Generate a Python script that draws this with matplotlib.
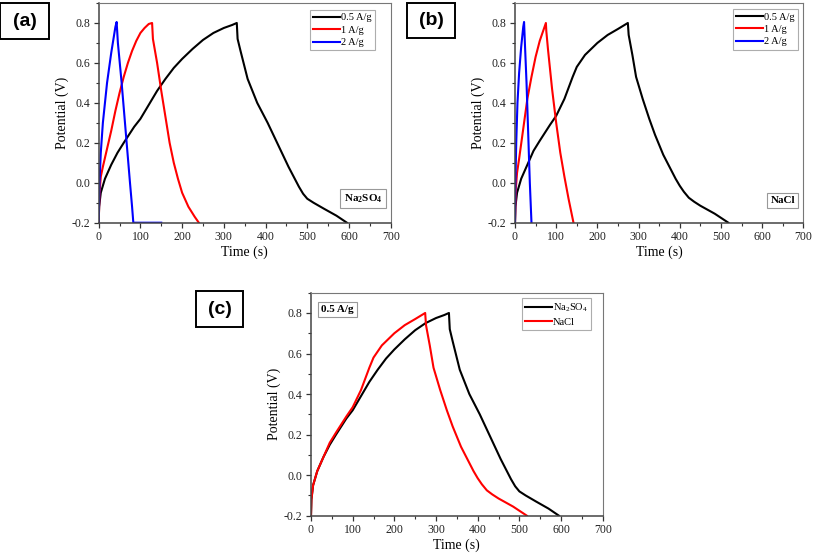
import matplotlib
matplotlib.use("Agg")
import matplotlib.pyplot as plt
from matplotlib.ticker import MultipleLocator

plt.rcParams['font.family'] = ['Liberation Serif', 'DejaVu Serif']
plt.rcParams['axes.unicode_minus'] = False
plt.rcParams['mathtext.fontset'] = 'custom'
plt.rcParams['mathtext.rm'] = 'Liberation Serif'
plt.rcParams['mathtext.bf'] = 'Liberation Serif:bold'
plt.rcParams['mathtext.it'] = 'Liberation Serif:italic'

# ---- data: Na2SO4 ----
na2so4_05_t = [0, 1, 5, 15, 30, 45, 60, 85, 100, 120, 140, 160, 180, 200, 225, 250, 275, 300, 320, 331,
               333, 340, 357, 380, 405, 430, 455, 470, 480, 490, 500, 515, 540, 570, 595]
na2so4_05_v = [-0.2, -0.12, -0.05, 0.02, 0.09, 0.15, 0.2, 0.28, 0.32, 0.39, 0.46, 0.52, 0.575, 0.62, 0.67, 0.715, 0.75, 0.775, 0.79, 0.8,
               0.72, 0.66, 0.52, 0.4, 0.3, 0.19, 0.08, 0.02, -0.02, -0.055, -0.08, -0.1, -0.13, -0.165, -0.2]
na2so4_1_t = [0, 2, 5, 10, 20, 30, 40, 50, 60, 70, 80, 90, 100, 110, 120, 128,
              130, 140, 150, 160, 170, 180, 190, 200, 215, 230, 240]
na2so4_1_v = [-0.2, -0.05, 0.03, 0.08, 0.17, 0.26, 0.36, 0.45, 0.53, 0.6, 0.66, 0.71, 0.75, 0.775, 0.795, 0.8,
              0.72, 0.6, 0.46, 0.33, 0.2, 0.1, 0.02, -0.05, -0.12, -0.17, -0.2]
na2so4_2_t = [0, 2, 5, 10, 20, 30, 40, 43, 46, 55, 65, 75, 80, 83, 150]
na2so4_2_v = [-0.2, 0.0, 0.15, 0.3, 0.5, 0.65, 0.78, 0.805, 0.7, 0.5, 0.25, 0.0, -0.12, -0.2, -0.2]

# ---- data: NaCl ----
nacl_05_t = [0, 1, 5, 15, 30, 45, 60, 85, 100, 120, 140, 150, 170, 200, 225, 250, 274,
             276, 285, 294, 310, 326, 340, 360, 375, 390, 400, 410, 422, 435, 450, 485, 518]
nacl_05_v = [-0.2, -0.12, -0.05, 0.02, 0.09, 0.16, 0.21, 0.29, 0.335, 0.42, 0.53, 0.58, 0.64, 0.7, 0.74, 0.77, 0.8,
             0.74, 0.64, 0.53, 0.42, 0.32, 0.24, 0.14, 0.08, 0.02, -0.015, -0.045, -0.075, -0.095, -0.115, -0.155, -0.2]
nacl_1_t = [0, 2, 5, 10, 20, 30, 40, 50, 60, 70, 75, 76, 80, 90, 100, 110, 120, 130, 142]
nacl_1_v = [-0.2, -0.03, 0.05, 0.12, 0.27, 0.42, 0.53, 0.63, 0.71, 0.77, 0.8, 0.76, 0.67, 0.47, 0.3, 0.15, 0.03, -0.08, -0.2]
nacl_2_t = [0, 1, 3, 6, 10, 15, 20, 22, 24, 28, 32, 36, 40]
nacl_2_v = [-0.2, 0.0, 0.2, 0.4, 0.55, 0.68, 0.78, 0.805, 0.7, 0.5, 0.25, 0.0, -0.2]

rate_labels = ['0.5 A/g', '1 A/g', '2 A/g']
rate_colors = ['black', 'red', 'blue']

W, H = 813, 554
fig = plt.figure(figsize=(W / 100, H / 100), dpi=100)


def make_ax(left, top, right, bottom):
    ax = fig.add_axes([left / W, 1 - bottom / H, (right - left) / W, (bottom - top) / H])
    ax.set_xlim(0, 700)
    ax.set_ylim(-0.2, 0.9)
    ax.xaxis.set_major_locator(MultipleLocator(100))
    ax.xaxis.set_minor_locator(MultipleLocator(50))
    ax.yaxis.set_minor_locator(MultipleLocator(0.1))
    ax.set_yticks([-0.2, 0.0, 0.2, 0.4, 0.6, 0.8])
    ax.tick_params(which='both', direction='out', top=False, right=False, labelsize=8.5, colors='#333333',
                   labelcolor='#222222')
    ax.tick_params(which='major', length=3.5, width=0.9, pad=2.5)
    ax.tick_params(which='minor', length=2, width=0.8)
    for s in ['left', 'bottom']:
        ax.spines[s].set_linewidth(1.1)
        ax.spines[s].set_color('#444444')
    for s in ['top', 'right']:
        ax.spines[s].set_linewidth(0.8)
        ax.spines[s].set_color('#777777')
    ax.set_xlabel('Time (s)', fontsize=10, labelpad=2)
    ax.set_ylabel('Potential (V)', fontsize=10, labelpad=2)
    return ax


def panel_label(x0, y0, x1, y1, txt):
    fig.patches.append(plt.Rectangle((x0 / W, 1 - y1 / H), (x1 - x0) / W, (y1 - y0) / H,
                                     transform=fig.transFigure, fill=False, edgecolor='black',
                                     linewidth=1.4))
    fig.text((x0 + x1) / 2 / W, 1 - (y0 + y1) / 2 / H, txt, ha='center', va='center',
             fontsize=14, fontweight='bold', family='Liberation Sans')


def boxed(ax, x, y, txt):
    ax.text(x, y, txt, transform=ax.transAxes, ha='right', va='bottom', fontsize=8, fontweight='bold',
            bbox=dict(boxstyle='square,pad=0.3', facecolor='white', edgecolor='#999999', linewidth=0.8))


def add_legend(ax, anchor):
    leg = ax.legend(loc='upper right', bbox_to_anchor=anchor, borderaxespad=0, fontsize=7.5,
                    frameon=True, fancybox=False, edgecolor='#999999', handlelength=2.6, handletextpad=0.1,
                    labelspacing=0.3, borderpad=0.3)
    leg.get_frame().set_linewidth(0.8)
    return leg


# (a)
axa = make_ax(98.7, 3, 390.7, 222.7)
for t, v, lab, c in zip([na2so4_05_t, na2so4_1_t, na2so4_2_t], [na2so4_05_v, na2so4_1_v, na2so4_2_v],
                        rate_labels, rate_colors):
    axa.plot(t, v, color=c, lw=1.5, label=lab)
add_legend(axa, (0.946, 0.968))
boxed(axa, 0.971, 0.08, r'$\mathbf{Na_2SO_4}$')
panel_label(0, 3, 49, 39, '(a)')

# (b)
axb = make_ax(515, 3, 803.3, 222.7)
for t, v, lab, c in zip([nacl_05_t, nacl_1_t, nacl_2_t], [nacl_05_v, nacl_1_v, nacl_2_v],
                        rate_labels, rate_colors):
    axb.plot(t, v, color=c, lw=1.5, label=lab)
add_legend(axb, (0.982, 0.972))
boxed(axb, 0.971, 0.08, 'NaCl')
panel_label(407, 3, 455, 38, '(b)')

# (c)
axc = make_ax(311, 292.7, 602.7, 515.7)
axc.plot(na2so4_05_t, na2so4_05_v, color='black', lw=1.5, label=r'Na$_2$SO$_4$')
axc.plot(nacl_05_t, nacl_05_v, color='red', lw=1.5, label='NaCl')
add_legend(axc, (0.96, 0.974))
axc.text(0.035, 0.945, '0.5 A/g', transform=axc.transAxes, ha='left', va='top', fontsize=8,
         fontweight='bold',
         bbox=dict(boxstyle='square,pad=0.3', facecolor='white', edgecolor='#999999', linewidth=0.8))
panel_label(196, 291, 243, 327, '(c)')

fig.savefig('out.png', dpi=100)
